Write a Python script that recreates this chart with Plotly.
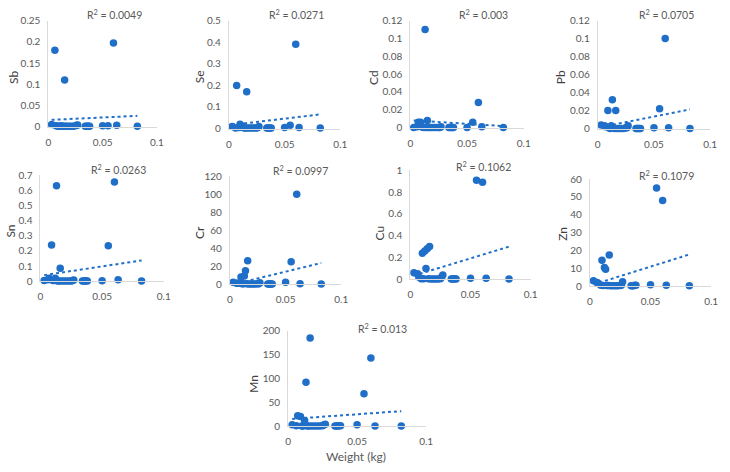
import numpy as np
import plotly.graph_objects as go

# sample weights (kg), shared by all elements
weight = [0.003, 0.006, 0.007, 0.009, 0.010, 0.011, 0.012, 0.013, 0.014, 0.015,
          0.016, 0.017, 0.019, 0.021, 0.023, 0.025, 0.026, 0.027, 0.034, 0.035,
          0.036, 0.037, 0.038, 0.050, 0.055, 0.060, 0.063, 0.082]

Sb = [0.005, 0.18, 0.002, 0.001, 0.001, 0.001, 0.002, 0.001, 0.001, 0.11,
      0.001, 0.001, 0.001, 0.001, 0.001, 0.002, 0.003, 0.004, 0.001, 0.001,
      0.001, 0.001, 0.001, 0.002, 0.002, 0.197, 0.003, 0.001]
Se = [0.01, 0.003, 0.20, 0.005, 0.02, 0.01, 0.012, 0.005, 0.003, 0.002,
      0.17, 0.003, 0.002, 0.002, 0.002, 0.003, 0.005, 0.01, 0.002, 0.002,
      0.002, 0.003, 0.002, 0.005, 0.015, 0.39, 0.005, 0.003]
Cd = [0, 0.001, 0.006, 0.006, 0.001, 0.0005, 0, 0.11, 0, 0.008,
      0, 0, 0, 0, 0, 0, 0, 0.001, 0, 0,
      0, 0, 0, 0, 0.006, 0.028, 0.001, 0]
Pb = [0.004, 0.003, 0.002, 0.020, 0.001, 0.0, 0.003, 0.032, 0.001, 0.0,
      0.020, 0.0, 0, 0, 0, 0.001, 0.001, 0.003, 0, 0,
      0, 0, 0, 0.001, 0.022, 0.10, 0.001, 0]
Sn = [0.005, 0.01, 0.02, 0.24, 0.005, 0.005, 0.02, 0.63, 0.002, 0.002,
      0.085, 0.002, 0.002, 0.002, 0.002, 0.002, 0.005, 0.008, 0.002, 0.002,
      0.002, 0.003, 0.002, 0.003, 0.235, 0.655, 0.01, 0.002]
Cr = [2, 1, 1, 1, 8, 0.5, 0.5, 9, 15, 0.5,
      26, 0.3, 0.3, 0.3, 0.3, 0.5, 0.5, 1.5, 0.3, 0.3,
      0.3, 0.3, 0.3, 2, 25, 100, 0.5, 0.3]
Cu = [0.06, 0.05, 0.02, 0.005, 0.24, 0.005, 0.26, 0.10, 0.28, 0.005,
      0.30, 0.003, 0.003, 0.003, 0.003, 0.005, 0.02, 0.04, 0.003, 0.003,
      0.003, 0.005, 0.003, 0.01, 0.91, 0.89, 0.01, 0.003]
Zn = [3, 2, 1.5, 0.5, 14.5, 0.3, 10.5, 9.5, 0.3, 0.3,
      17.5, 0.2, 0.2, 0.2, 0.2, 0.3, 0.5, 2.5, 0.2, 0.2,
      0.2, 0.5, 0.5, 0.8, 55, 48, 0.5, 0.2]
Mn = [3, 1, 22, 20, 0.5, 0.5, 12, 92, 0.5, 0.5,
      185, 0.5, 0.5, 0.5, 0.5, 1, 3, 4, 0.5, 0.5,
      0.5, 1, 1, 3, 68, 143, 0.5, 0.5]

elements = ["Sb", "Se", "Cd", "Pb", "Sn", "Cr", "Cu", "Zn", "Mn"]
series = [Sb, Se, Cd, Pb, Sn, Cr, Cu, Zn, Mn]
r2_labels = ["0.0049", "0.0271", "0.003", "0.0705", "0.0263", "0.0997", "0.1062", "0.1079", "0.013"]
y_max = [0.25, 0.5, 0.12, 0.12, 0.7, 120, 1, 60, 200]
y_step = [0.05, 0.1, 0.02, 0.02, 0.1, 20, 0.2, 10, 50]
x_ticks = [0, 0.05, 0.1]

# layout in pixels: (x_left, x_right, y_bottom, y_top)
W, H = 730, 472
boxes = [(46, 156, 123, 14), (229, 342, 125, 14), (413, 528, 124, 14), (603, 717, 125, 14),
         (38, 163, 282, 173), (230, 343, 285, 174), (413, 535, 280, 168), (595, 718, 287, 177),
         (289, 429, 431, 333)]
ytitle_pos = [(10, 72), (199, 72), (375, 72), (565, 72),
              (8, 230), (199, 232), (382, 232), (567, 233), (254, 388)]
r2_pos = [(113, 8), (298, 8), (487, 8), (673, 8),
          (117, 167), (302, 168), (487, 164), (673, 173), (385, 331)]

BLUE = "#1f6fc9"
GRAY_TXT = "#595959"
AXIS = "#d9d9d9"
FONT = "Lato, 'Open Sans', sans-serif"

fig = go.Figure()
annotations = []
x_arr = np.array(weight)
for i, (name, vals) in enumerate(zip(elements, series)):
    k = i + 1
    xa = "x" if k == 1 else f"x{k}"
    ya = "y" if k == 1 else f"y{k}"
    fig.add_trace(go.Scatter(x=weight, y=vals, mode="markers", xaxis=xa, yaxis=ya,
                             marker=dict(color=BLUE, size=7.5), cliponaxis=False,
                             showlegend=False, hoverinfo="x+y"))
    m, b = np.polyfit(x_arr, np.array(vals, dtype=float), 1)
    xs = np.array([x_arr.min(), x_arr.max()])
    fig.add_trace(go.Scatter(x=xs, y=m * xs + b, mode="lines", xaxis=xa, yaxis=ya,
                             line=dict(color=BLUE, width=2, dash="dot"),
                             showlegend=False, hoverinfo="skip"))
    xl, xr, yb, yt = boxes[i]
    sfx = "" if k == 1 else str(k)
    fig.layout["xaxis" + sfx] = dict(
        domain=[xl / W, xr / W], range=[0, 0.1], anchor=ya, tickvals=x_ticks,
        ticktext=["0", "0.05", "0.1"], showgrid=False, zeroline=False,
        showline=True, linecolor=AXIS, linewidth=1,
        ticks="outside", ticklen=6, tickcolor="rgba(0,0,0,0)",
        tickfont=dict(size=10, color=GRAY_TXT, family=FONT))
    yt_vals = list(np.round(np.arange(0, y_max[i] + y_step[i] / 2, y_step[i]), 4))
    fig.layout["yaxis" + sfx] = dict(
        domain=[1 - yb / H, 1 - yt / H], range=[0, y_max[i]], anchor=xa,
        tickvals=yt_vals, showgrid=False, zeroline=False,
        showline=True, linecolor=AXIS, linewidth=1,
        ticks="outside", ticklen=5, tickcolor="rgba(0,0,0,0)",
        tickfont=dict(size=10, color=GRAY_TXT, family=FONT))
    tx, ty = ytitle_pos[i]
    annotations.append(dict(x=tx / W, y=1 - ty / H, xref="paper", yref="paper",
                            xanchor="center", yanchor="middle",
                            text=name, textangle=-90, showarrow=False,
                            font=dict(size=12, color="#404040", family=FONT)))
    rx, ry = r2_pos[i]
    annotations.append(dict(x=rx / W, y=1 - ry / H, xref="paper", yref="paper",
                            xanchor="center", yanchor="middle",
                            text=f"R<sup>2</sup> = {r2_labels[i]}", showarrow=False,
                            font=dict(size=10.5, color=GRAY_TXT, family=FONT)))

annotations.append(dict(x=358 / W, y=1 - 462 / H, xref="paper", yref="paper",
                        xanchor="center", yanchor="middle",
                        text="Weight (kg)", showarrow=False,
                        font=dict(size=12, color=GRAY_TXT, family=FONT)))

fig.update_layout(width=W, height=H, margin=dict(l=0, r=0, t=0, b=0),
                  paper_bgcolor="white", plot_bgcolor="white",
                  annotations=annotations, showlegend=False)
fig.write_html("out.html")
